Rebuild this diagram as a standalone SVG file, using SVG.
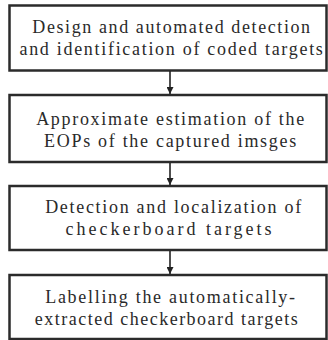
<svg xmlns="http://www.w3.org/2000/svg" width="328" height="340" viewBox="0 0 328 340">
<defs>
<marker id="ah" viewBox="0 0 10 10" refX="10" refY="5" markerWidth="7" markerHeight="7" markerUnits="userSpaceOnUse" orient="auto">
<path d="M0,0 L10,5 L0,10 z" fill="#222"/>
</marker>
<style>
rect.box{fill:#fff;stroke:#2b2b2b;stroke-width:2.5}
text{font-family:"Liberation Serif",serif;font-size:18px;letter-spacing:1.7px;fill:#2a2a2a;text-anchor:middle}
.conn line{stroke:#222;stroke-width:1.6}
</style>
</defs>
<rect width="328" height="340" fill="#fff"/>
<g id="n1">
<rect class="box" x="9.5" y="5.5" width="317" height="65"/>
<text x="172" y="33" style="letter-spacing:1.6px">Design and automated detection</text>
<text x="172" y="55">and identification of coded targets</text>
</g>
<g id="n2">
<rect class="box" x="9.5" y="95" width="317" height="67"/>
<text x="171" y="125">Approximate estimation of the</text>
<text x="171" y="147">EOPs of the captured imsges</text>
</g>
<g id="n3">
<rect class="box" x="9.5" y="186" width="317" height="64"/>
<text x="174" y="213">Detection and localization of</text>
<text x="170" y="235" style="letter-spacing:3px">checkerboard targets</text>
</g>
<g id="n4">
<rect class="box" x="9.5" y="275" width="317" height="64"/>
<text x="171" y="303">Labelling the automatically-</text>
<text x="167" y="325" style="letter-spacing:1.5px">extracted checkerboard targets</text>
</g>
<g class="conn" id="connectors">
<line x1="170" y1="71" x2="170" y2="94" marker-end="url(#ah)"/>
<line x1="170" y1="163" x2="170" y2="185" marker-end="url(#ah)"/>
<line x1="170" y1="251" x2="170" y2="274" marker-end="url(#ah)"/>
</g>
</svg>
